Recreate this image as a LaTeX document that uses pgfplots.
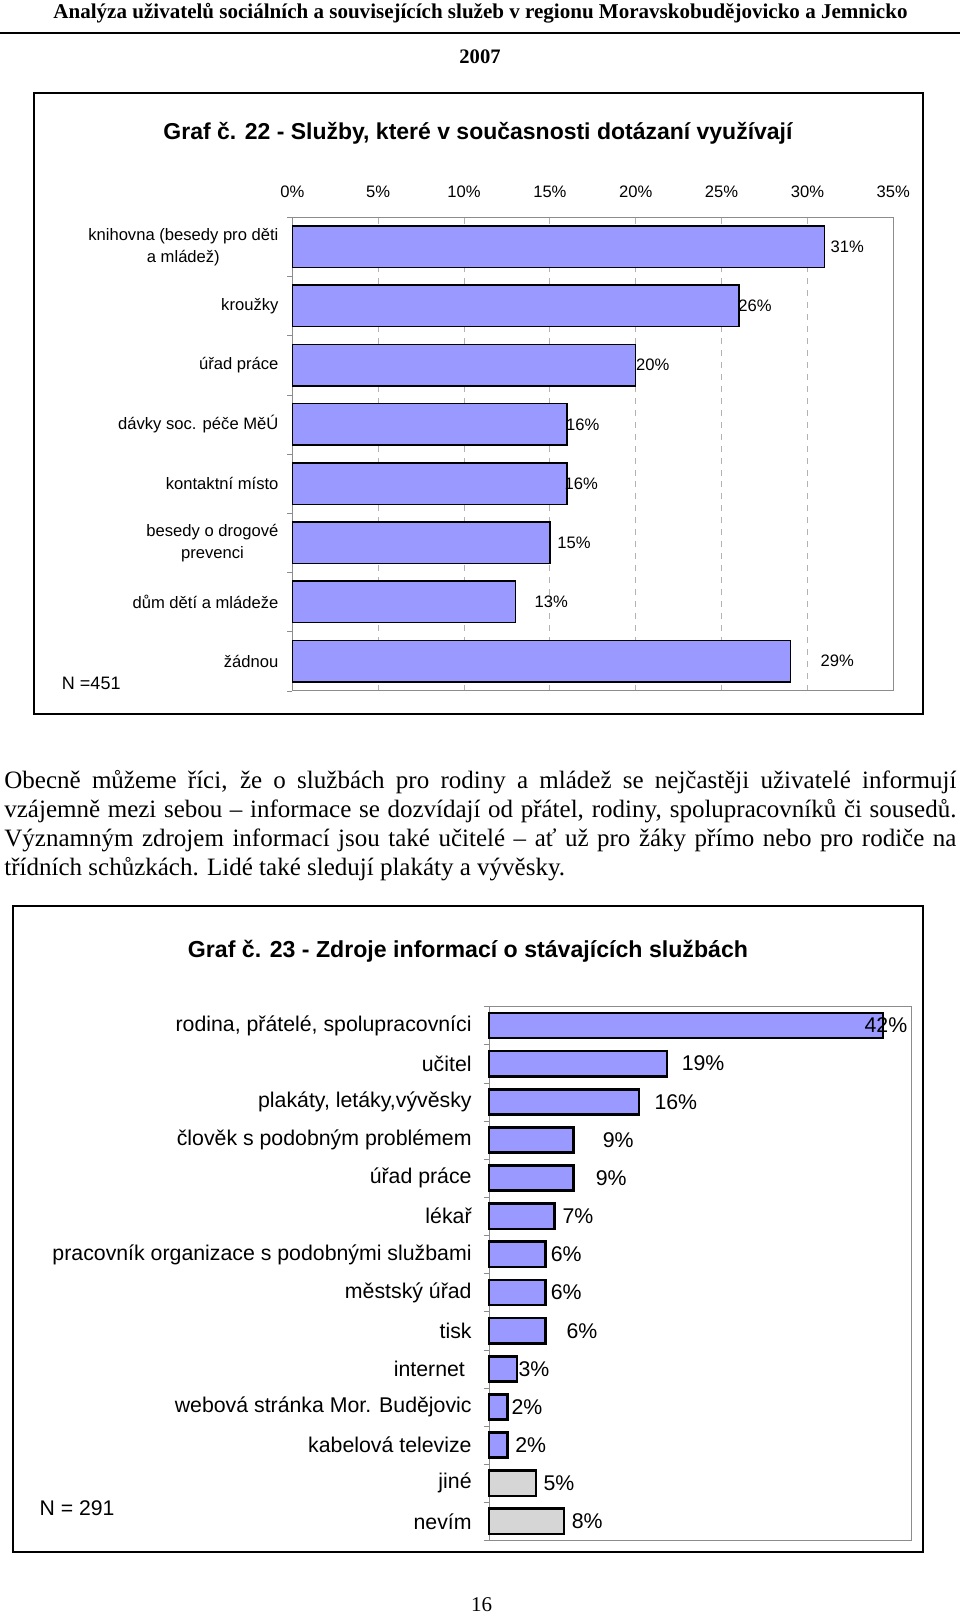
\documentclass[border=0pt]{standalone}
\usepackage{pgfplots}
\pgfplotsset{compat=1.18}
\usepackage{fontspec}
\setmainfont{Liberation Serif}
\newfontfamily\arial{Liberation Sans}
\definecolor{barblue}{HTML}{9999FF}
\definecolor{bargray}{HTML}{D6D6D6}
\definecolor{axisgray}{HTML}{8C8C8C}
\begin{document}
\begin{tikzpicture}[x=0.5bp,y=-0.5bp]
\useasboundingbox (0,0) rectangle (960,1613);
% ---------- page header ----------
\node[anchor=base, inner sep=0pt] at (480.5,18.5) {\resizebox{427bp}{!}{\fontsize{10bp}{12bp}\selectfont\bfseries Analýza uživatelů sociálních a souvisejících služeb v regionu Moravskobudějovicko a Jemnicko}};
\draw[line width=1bp] (0,33) -- (960,33);
\node[anchor=base, inner sep=0pt] at (480,63) {\fontsize{10.3bp}{12bp}\selectfont\bfseries 2007};
% ---------- chart 1 ----------
\draw[line width=1bp] (34,92.6) rectangle (922.6,714.3);
\node[anchor=base, inner sep=0pt] at (478,139.7) {\resizebox{314.5bp}{!}{\arial\bfseries\fontsize{11.5bp}{13bp}\selectfont Graf č. 22 - Služby, které v současnosti dotázaní využívají}};
\node[anchor=base west, inner sep=0pt] at (61.6,689.5) {\arial\fontsize{9bp}{11bp}\selectfont N =451};
\begin{axis}[
  at={(146.15bp,-108.6bp)}, anchor=north west,
  scale only axis, width=300.5bp, height=236.75bp,
  xmin=0, xmax=35, ymin=0.5, ymax=8.5,
  xtick={0,5,...,35},
  xticklabels={0\%,5\%,10\%,15\%,20\%,25\%,30\%,35\%},
  xticklabel pos=right,
  xticklabel style={font=\arial\fontsize{8.3bp}{10bp}\selectfont, anchor=base, yshift=9.8bp},
  xmajorgrids, major x grid style={dashed, gray!60},
  ytick={1,...,8},
  yticklabels={žádnou, dům dětí a mládeže, {besedy o drogové\\prevenci}, kontaktní místo, dávky soc. péče MěÚ, úřad práce, kroužky, {knihovna (besedy pro děti\\a mládež)}},
  yticklabel style={font=\arial\fontsize{8.3bp}{11bp}\selectfont, align=center, anchor=east, inner sep=0pt, xshift=-6.75bp},
  minor ytick={0.5,1.5,...,8.5},
  major tick length=0pt, minor tick length=2.5bp, tick align=outside, ytick pos=left,
  axis line style={axisgray}, minor tick style={axisgray},
  clip=false,
]
\addplot[xbar, bar shift=0pt, bar width=20.75bp, fill=barblue, draw=black, line width=0.75bp]
  coordinates {(29,1) (13,2) (15,3) (16,4) (16,5) (20,6) (26,7) (31,8)};
\addplot[only marks, mark=*, mark options={opacity=0}, point meta=explicit,
  nodes near coords={\pgfmathprintnumber[assume math mode=true]{\pgfplotspointmeta}\%},
  nodes near coords style={anchor=center, inner sep=0pt, opacity=1, font=\arial\fontsize{8.3bp}{10bp}\selectfont}]
  coordinates {(31.74,1) [29] (15.08,2) [13] (16.4,3) [15] (16.83,4) [16] (16.92,5) [16] (20.99,6) [20] (26.95,7) [26] (32.32,8) [31]};
\end{axis}
% ---------- paragraph ----------
\node[anchor=base west, inner sep=0pt] at (4,788.5) {\fontsize{12.5bp}{14bp}\selectfont\makebox[476bp][s]{Obecně můžeme říci, že o službách pro rodiny a mládež se nejčastěji uživatelé informují}};
\node[anchor=base west, inner sep=0pt] at (4,817.3) {\fontsize{12.5bp}{14bp}\selectfont\makebox[476bp][s]{vzájemně mezi sebou – informace se dozvídají od přátel, rodiny, spolupracovníků či sousedů.}};
\node[anchor=base west, inner sep=0pt] at (4,846.2) {\fontsize{12.5bp}{14bp}\selectfont\makebox[476bp][s]{Významným zdrojem informací jsou také učitelé – ať už pro žáky přímo nebo pro rodiče na}};
\node[anchor=base west, inner sep=0pt] at (4,875) {\fontsize{12.5bp}{14bp}\selectfont třídních schůzkách. Lidé také sledují plakáty a vývěsky.};
% ---------- chart 2 ----------
\draw[line width=1bp] (13.4,905.5) rectangle (923,1551.7);
\node[anchor=base, inner sep=0pt] at (468,957) {\resizebox{280bp}{!}{\arial\bfseries\fontsize{11.5bp}{13bp}\selectfont Graf č. 23 - Zdroje informací o stávajících službách}};
\node[anchor=base west, inner sep=0pt] at (39.3,1515.5) {\arial\fontsize{10.6bp}{12bp}\selectfont N = 291};
\begin{axis}[
  at={(244.5bp,-503.2bp)}, anchor=north west,
  scale only axis, width=211bp, height=267bp,
  xmin=0, xmax=45, ymin=0.5, ymax=14.5,
  xtick=\empty,
  ytick={1,...,14},
  yticklabels={nevím, jiné, kabelová televize, webová stránka Mor. Budějovic, {internet\hspace*{3.35bp}}, tisk, městský úřad, pracovník organizace s podobnými službami, lékař, úřad práce, člověk s podobným problémem, {plakáty, letáky,vývěsky}, učitel, {rodina, přátelé, spolupracovníci}},
  yticklabel style={font=\arial\fontsize{10.65bp}{12bp}\selectfont, anchor=east, inner sep=0pt, xshift=-8.5bp},
  minor ytick={0.5,1.5,...,14.5},
  major tick length=0pt, minor tick length=2.5bp, tick align=outside, ytick pos=left,
  axis line style={axisgray}, minor tick style={axisgray},
  clip=false,
]
\addplot[xbar, bar shift=0pt, bar width=12.6bp, fill=barblue, draw=black, line width=1.3bp]
  coordinates {(2,3) (2,4) (3,5) (6,6) (6,7) (6,8) (7,9) (9,10) (9,11) (16,12) (19,13) (42,14)};
\addplot[xbar, bar shift=0pt, bar width=12.6bp, fill=bargray, draw=black, line width=1.3bp]
  coordinates {(8,1) (5,2)};
\addplot[only marks, mark=*, mark options={opacity=0}, point meta=explicit,
  nodes near coords={\pgfmathprintnumber[assume math mode=true]{\pgfplotspointmeta}\%},
  nodes near coords style={anchor=center, inner sep=0pt, opacity=1, font=\arial\fontsize{10.65bp}{12bp}\selectfont}]
  coordinates {(10.47,1) [8] (7.46,2) [5] (4.44,3) [2] (4.05,4) [2] (4.79,5) [3] (9.91,6) [6] (8.23,7) [6] (8.23,8) [6] (9.48,9) [7] (13.03,10) [9] (13.77,11) [9] (19.92,12) [16] (22.83,13) [19] (42.32,14) [42]};
\end{axis}
% ---------- page number ----------
\node[anchor=base, inner sep=0pt] at (481.7,1611) {\fontsize{10.5bp}{12bp}\selectfont 16};
\end{tikzpicture}
\end{document}
